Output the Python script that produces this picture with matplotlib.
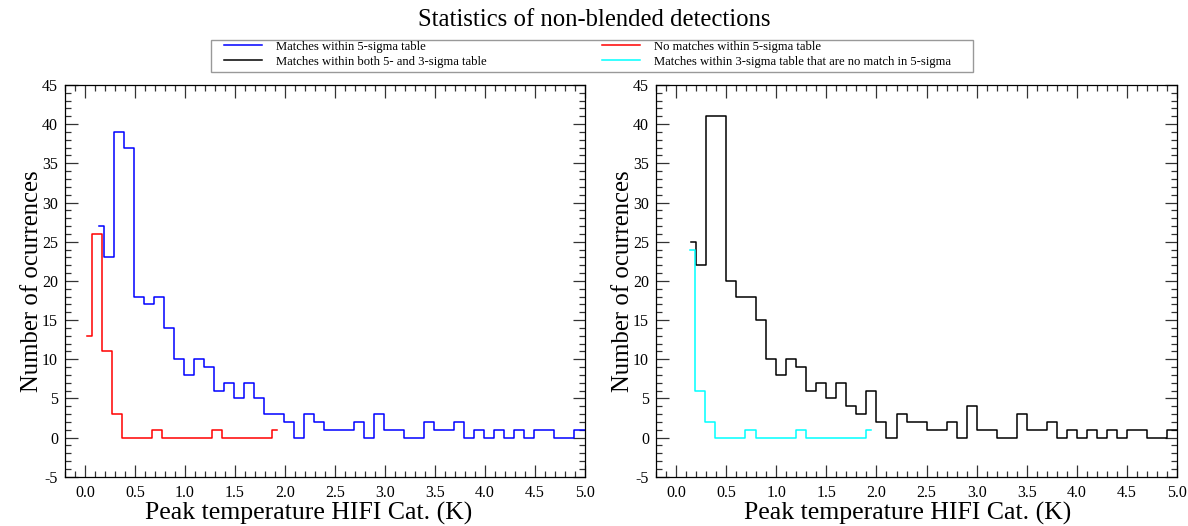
import numpy as np
import matplotlib
matplotlib.use("Agg")
import matplotlib.pyplot as plt
from matplotlib.patches import Rectangle
from matplotlib.ticker import MultipleLocator

plt.rcParams["font.family"] = ["Liberation Serif", "DejaVu Serif"]
plt.rcParams["axes.unicode_minus"] = False

# Histogram bins: 0.1 K wide, values counted per bin.
bin_width = 0.1

# Left panel: 5-sigma table
blue_start = 0.145
blue_counts = [27, 23, 39, 37, 18, 17, 18, 14, 10, 8, 10, 9, 6, 7, 5, 7, 5, 3,
               3, 2, 0, 3, 2, 1, 1, 1, 2, 0, 3, 1, 1, 0, 0, 2, 1, 1, 2, 0, 1,
               0, 1, 0, 1, 0, 1, 1, 0, 0, 1, 1]
red_start = 0.017
red_counts = [13, 26, 11, 3, 0, 0, 0, 1, 0, 0, 0, 0, 0, 1, 0, 0, 0, 0, 0, 1]

# Right panel: 5- and 3-sigma tables
black_start = 0.15
black_counts = [25, 22, 41, 41, 20, 18, 18, 15, 10, 8, 10, 9, 6, 7, 5, 7, 4, 3,
                6, 2, 0, 3, 2, 2, 1, 1, 2, 0, 4, 1, 1, 0, 0, 3, 1, 1, 2, 0, 1,
                0, 1, 0, 1, 0, 1, 1, 0, 0, 1, 1]
cyan_start = 0.143
cyan_counts = [24, 6, 2, 0, 0, 0, 1, 0, 0, 0, 0, 1, 0, 0, 0, 0, 0, 0, 1]

labels = {
    "blue": "Matches within 5-sigma table",
    "black": "Matches within both 5- and 3-sigma table",
    "red": "No matches within 5-sigma table",
    "cyan": "Matches within 3-sigma table that are no match in 5-sigma",
}

W, H = 1188, 526


def centers(start, counts):
    return start + bin_width * np.arange(len(counts))


def style_axes(ax, xlabel_x):
    ax.set_xlim(-0.2, 5.0)
    ax.set_ylim(-5, 45)
    ax.xaxis.set_major_locator(MultipleLocator(0.5))
    ax.xaxis.set_minor_locator(MultipleLocator(0.1))
    ax.yaxis.set_major_locator(MultipleLocator(5))
    ax.yaxis.set_minor_locator(MultipleLocator(1))
    ax.xaxis.set_major_formatter(plt.FuncFormatter(lambda v, p: f"{v:.1f}"))
    ax.tick_params(which="both", direction="in", top=True, right=True,
                   labelsize=11.5, width=0.9, color="#333333")
    ax.tick_params(which="major", length=9)
    ax.tick_params(which="minor", length=4.5)
    ax.tick_params(axis="x", pad=6)
    ax.tick_params(axis="y", pad=5)
    for s in ax.spines.values():
        s.set_linewidth(0.9)
    ax.set_xlabel("Peak temperature HIFI Cat. (K)", fontsize=18.5)
    ax.xaxis.set_label_coords(xlabel_x, -0.094, transform=ax.transAxes)
    ax.xaxis.label.set_va("center")
    ax.set_ylabel("Number of ocurrences", fontsize=17.8, labelpad=-1)


fig = plt.figure(figsize=(W / 100, H / 100), dpi=100)
ax1 = fig.add_axes([0.0547, 0.0935, 0.4377, 0.745])
ax2 = fig.add_axes([0.5522, 0.0935, 0.4386, 0.745])

lw = 1.1
h_blue, = ax1.plot(centers(blue_start, blue_counts), blue_counts,
                   drawstyle="steps-mid", color="#0000ff", lw=lw,
                   label=labels["blue"])
h_red, = ax1.plot(centers(red_start, red_counts), red_counts,
                  drawstyle="steps-mid", color="#ff0000", lw=lw,
                  label=labels["red"])
h_black, = ax2.plot(centers(black_start, black_counts), black_counts,
                    drawstyle="steps-mid", color="#000000", lw=lw,
                    label=labels["black"])
h_cyan, = ax2.plot(centers(cyan_start, cyan_counts), cyan_counts,
                   drawstyle="steps-mid", color="#00ffff", lw=lw,
                   label=labels["cyan"])

style_axes(ax1, 0.469)
style_axes(ax2, 0.482)

fig.suptitle("Statistics of non-blended detections", fontsize=17.8, y=0.983)

# legend frame drawn separately so the padding matches the original box
fig.patches.append(Rectangle((211 / W, 1 - 72 / H), 762 / W, 32 / H,
                             transform=fig.transFigure, fill=False,
                             edgecolor="#999999", lw=1.0))
leg = fig.legend(handles=[h_blue, h_black, h_red, h_cyan], ncol=2,
                 loc="lower left", mode="expand",
                 bbox_to_anchor=(221 / W, 1 - 71 / H, 733 / W, 29 / H),
                 fontsize=9.1, frameon=False, handlelength=3.0,
                 handletextpad=1.1, borderpad=0.25, labelspacing=0.25,
                 borderaxespad=0)

fig.savefig("out.png", dpi=100)
